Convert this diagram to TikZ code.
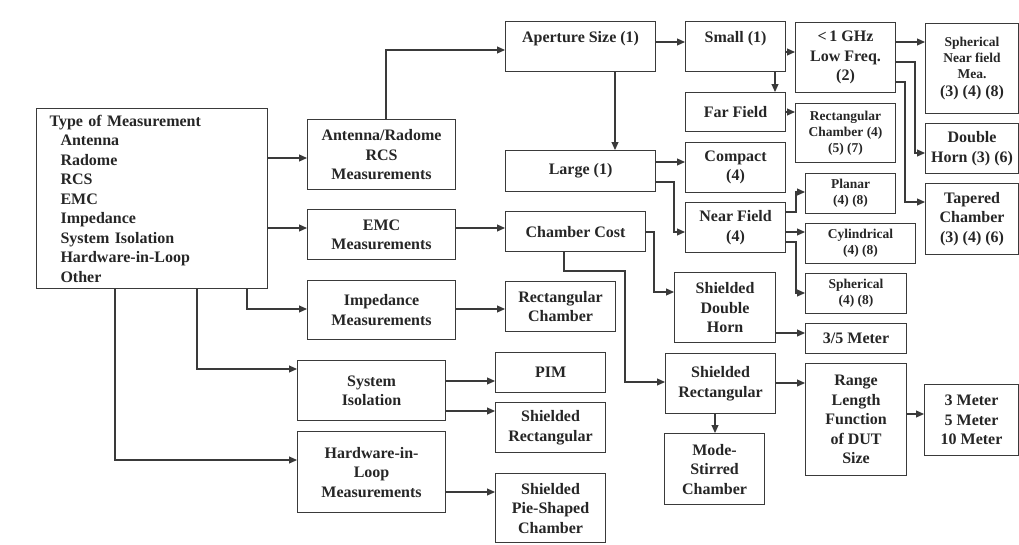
\documentclass[tikz,border=0pt]{standalone}
\usepackage{fontspec}
\setmainfont{Liberation Serif}
\usetikzlibrary{arrows.meta}
\definecolor{linecol}{HTML}{3A3A3A}
\definecolor{textcol}{HTML}{262626}
\tikzset{
  box/.style={draw=linecol, line width=1.1pt, inner sep=0pt, align=center, anchor=north west,
    text=textcol, font=\fontsize{16}{19.5}\selectfont\bfseries},
  smallf/.style={font=\fontsize{13.5}{16}\selectfont\bfseries},
  conn/.style={draw=linecol, line width=1.1pt},
  arr/.style={conn, -{Triangle[length=8pt,width=7pt]}},
}
\newcommand\bx[7][]{\node[box,#1,minimum width={(#5-#3)*1pt},minimum height={(#6-#4)*1pt}] (#2) at (#3,#4) {#7};}
\begin{document}
\begin{tikzpicture}[x=1pt,y=-1pt]
\useasboundingbox (0,0) rectangle (1019,544);
% left column
\node[box, text width=205pt, inner xsep=13pt, align=left, minimum height=180pt] (type) at (36,108)
 {Type of Measurement\\
 \hspace*{11pt}Antenna\\
 \hspace*{11pt}Radome\\
 \hspace*{11pt}RCS\\
 \hspace*{11pt}EMC\\
 \hspace*{11pt}Impedance\\
 \hspace*{11pt}System Isolation\\
 \hspace*{11pt}Hardware-in-Loop\\
 \hspace*{11pt}Other};
\bx{antrcs}{307}{119}{455}{189}{Antenna/Radome\\RCS\\Measurements}
\bx{emc}{307}{209}{455}{259}{EMC\\Measurements}
\bx{imp}{307}{280}{455}{339}{Impedance\\Measurements}
\bx{sysiso}{297}{360}{445}{420}{System\\Isolation}
\bx{hil}{297}{431}{445}{512}{Hardware-in-\\Loop\\Measurements}
% third column
\bx[text height=12pt,text depth=20pt]{aper}{505}{21}{655}{71}{Aperture Size (1)}
\bx{large}{505}{150}{655}{191}{Large (1)}
\bx{ccost}{505}{211}{645}{251}{Chamber Cost}
\bx{rectch}{505}{281}{615}{331}{Rectangular\\Chamber}
\bx{pim}{495}{352}{605}{392}{PIM}
\bx{shrect2}{495}{402}{605}{452}{Shielded\\Rectangular}
\bx{pie}{495}{473}{605}{542}{Shielded\\Pie-Shaped\\Chamber}
% fourth column
\bx[text height=12pt,text depth=20pt]{small}{685}{21}{785}{71}{Small (1)}
\bx{farf}{685}{92}{785}{131}{Far Field}
\bx{compact}{685}{142}{785}{192}{Compact\\(4)}
\bx{nearf}{685}{202}{785}{252}{Near Field\\(4)}
\bx{shdh}{674}{272}{775}{342}{Shielded\\Double\\Horn}
\bx{shrect}{665}{353}{775}{413}{Shielded\\Rectangular}
\bx{mode}{664}{433}{764}{504}{Mode-\\Stirred\\Chamber}
% fifth column
\bx{lowf}{795}{22}{895}{92}{<\,1 GHz\\Low Freq.\\(2)}
\bx[smallf]{rectc}{795}{103}{895}{162}{Rectangular\\Chamber (4)\\(5) (7)}
\bx[smallf]{planar}{805}{173}{895}{213}{Planar\\(4) (8)}
\bx[smallf]{cyl}{805}{223}{915}{263}{Cylindrical\\(4) (8)}
\bx[smallf]{sphr}{805}{273}{906}{313}{Spherical\\(4) (8)}
\bx{meter35}{805}{323}{906}{353}{3/5 Meter}
\bx{range}{805}{363}{906}{475}{Range\\Length\\Function\\of DUT\\Size}
% sixth column
\bx[smallf]{sphnf}{925}{23}{1018}{113}{Spherical\\Near field\\Mea.\\[2pt]{\fontsize{16}{16}\selectfont (3) (4) (8)}}
\bx{dhorn}{925}{123}{1018}{173}{Double\\Horn (3) (6)}
\bx{taper}{925}{183}{1018}{254}{Tapered\\Chamber\\(3) (4) (6)}
\bx{meters}{924}{384}{1018}{455}{3 Meter\\5 Meter\\10 Meter}
% connectors from type
\draw[arr] (type.east |- 0,158) -- (antrcs.west |- 0,158);
\draw[arr] (type.east |- 0,228) -- (emc.west |- 0,228);
\draw[arr] (type.south -| 247,0) -- (247,309) -- (imp.west |- 0,309);
\draw[arr] (type.south -| 197,0) -- (197,369) -- (sysiso.west |- 0,369);
\draw[arr] (type.south -| 115,0) -- (115,460) -- (hil.west |- 0,460);
% second column out
\draw[arr] (antrcs.north -| 386,0) -- (386,50) -- (aper.west |- 0,50);
\draw[arr] (emc.east |- 0,228) -- (ccost.west |- 0,228);
\draw[arr] (imp.east |- 0,309) -- (rectch.west |- 0,309);
\draw[arr] (sysiso.east |- 0,381) -- (pim.west |- 0,381);
\draw[arr] (sysiso.east |- 0,411) -- (shrect2.west |- 0,411);
\draw[arr] (hil.east |- 0,492) -- (pie.west |- 0,492);
% third column out
\draw[arr] (aper.east |- 0,42) -- (small.west |- 0,42);
\draw[arr] (aper.south -| 615,0) -- (large.north -| 615,0);
\draw[arr] (large.east |- 0,162) -- (compact.west |- 0,162);
\draw[arr] (large.east |- 0,182) -- (674,182) -- (674,232) -- (nearf.west |- 0,232);
\draw[arr] (ccost.east |- 0,232) -- (654,232) -- (654,292) -- (shdh.west |- 0,292);
\draw[arr] (ccost.south -| 564,0) -- (564,271) -- (625,271) -- (625,382) -- (shrect.west |- 0,382);
% fourth column out
\draw[arr] (small.east |- 0,52) -- (lowf.west |- 0,52);
\draw[arr] (small.south -| 775,0) -- (farf.north -| 775,0);
\draw[arr] (farf.east |- 0,112) -- (rectc.west |- 0,112);
\draw[arr] (nearf.east |- 0,212) -- (796,212) -- (796,192) -- (planar.west |- 0,192);
\draw[arr] (nearf.east |- 0,232) -- (cyl.west |- 0,232);
\draw[arr] (nearf.east |- 0,242) -- (796,242) -- (796,293) -- (sphr.west |- 0,293);
\draw[arr] (shdh.east |- 0,333) -- (meter35.west |- 0,333);
\draw[arr] (shrect.east |- 0,383) -- (range.west |- 0,383);
\draw[arr] (shrect.south -| 715,0) -- (mode.north -| 715,0);
% fifth column out
\draw[arr] (lowf.east |- 0,42) -- (sphnf.west |- 0,42);
\draw[arr] (lowf.east |- 0,62) -- (915,62) -- (915,153) -- (dhorn.west |- 0,153);
\draw[arr] (lowf.east |- 0,82) -- (905,82) -- (905,202) -- (taper.west |- 0,202);
\draw[arr] (range.east |- 0,414) -- (meters.west |- 0,414);
\end{tikzpicture}
\end{document}
